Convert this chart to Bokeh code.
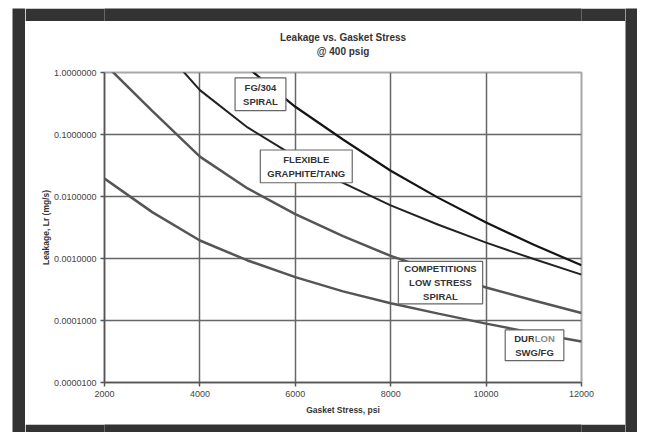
from bokeh.plotting import figure
from bokeh.models import Range1d, FixedTicker, PrintfTickFormatter, Label, Plot
from bokeh.layouts import column, row
from bokeh.embed import file_html
from bokeh.resources import INLINE

# ---- data ----
fg304_stress = [5000, 6000, 7000, 8000, 9000, 10000, 11000, 12000]
fg304_leak = [1.2, 0.28, 0.083, 0.026, 0.0095, 0.0038, 0.00166, 0.00078]

flex_stress = [3600, 4000, 5000, 6000, 7000, 8000, 9000, 10000, 11000, 12000]
flex_leak = [1.15, 0.52, 0.13, 0.044, 0.0166, 0.0072, 0.0035, 0.0018, 0.00098, 0.00055]

comp_stress = [2100, 3000, 4000, 5000, 6000, 7000, 8000, 9000, 10000, 11000, 12000]
comp_leak = [1.16, 0.24, 0.044, 0.0135, 0.0052, 0.0023, 0.0011, 0.0006, 0.00034, 0.00021, 0.000132]

durlon_stress = [2000, 3000, 4000, 5000, 6000, 7000, 8000, 9000, 10000, 11000, 12000]
durlon_leak = [0.0195, 0.0056, 0.00195, 0.00093, 0.0005, 0.000295, 0.00019, 0.000129, 0.000089, 0.000063, 0.000046]

x_ticks = [2000, 4000, 6000, 8000, 10000, 12000]
y_ticks = [1e-5, 1e-4, 1e-3, 1e-2, 1e-1, 1.0]

title_lines = ["Leakage vs. Gasket Stress", "@ 400 psig"]

FONT = "Liberation Sans"
FRAME = "#333333"

# ---- header strip: white band holding the two-line title ----
header = Plot(width=600, height=38, x_range=Range1d(2000, 12000), y_range=Range1d(0, 38),
              toolbar_location=None, min_border_top=0, min_border_left=0,
              min_border_right=0, min_border_bottom=0, outline_line_color=None,
              background_fill_color="white", border_fill_color="white",
              output_backend="svg")
for txt, yv in zip(title_lines, [21.7, 8.0]):
    header.add_layout(Label(x=7000, y=yv, text=txt, text_align="center", text_baseline="middle",
                            text_font=FONT, text_font_size="10px", text_font_style="bold",
                            text_color="#333333"))

# ---- main chart ----
p = figure(width=600, height=363, output_backend="svg", toolbar_location=None,
           y_axis_type="log",
           x_range=Range1d(2000, 12000), y_range=Range1d(1e-5, 1.0),
           min_border_left=79, min_border_right=44, min_border_top=13, min_border_bottom=40)
p.background_fill_color = "white"
p.border_fill_color = "white"
p.outline_line_color = "#a8a8a8"
p.outline_line_width = 2

# axes
p.xaxis.ticker = FixedTicker(ticks=x_ticks)
p.yaxis.ticker = FixedTicker(ticks=y_ticks, minor_ticks=[])
p.yaxis.formatter = PrintfTickFormatter(format="%.7f")
for ax in (p.xaxis[0], p.yaxis[0]):
    ax.axis_line_color = "#555555"
    ax.axis_line_width = 1.5
    ax.major_tick_line_color = "#555555"
    ax.major_tick_line_width = 1.5
    ax.major_tick_out = 4
    ax.major_tick_in = 0
    ax.minor_tick_line_color = None
    ax.major_label_text_font = FONT
    ax.major_label_text_font_size = "9px"
    ax.major_label_text_color = "#444444"
    ax.axis_label_text_font = FONT
    ax.axis_label_text_font_size = "8.5px"
    ax.axis_label_text_font_style = "bold"
    ax.axis_label_text_color = "#333333"
p.xaxis.axis_label = "Gasket Stress, psi"
p.yaxis.axis_label = "Leakage, Lr (mg/s)"
p.xaxis.major_label_standoff = 4
p.yaxis.major_label_standoff = 4
p.xaxis.axis_label_standoff = 5
p.yaxis.axis_label_standoff = 0

# grid
p.xgrid.ticker = FixedTicker(ticks=x_ticks[1:-1])
p.ygrid.ticker = FixedTicker(ticks=y_ticks[1:-1], minor_ticks=[])
for g in (p.xgrid[0], p.ygrid[0]):
    g.grid_line_color = "#666666"
    g.grid_line_width = 1.5

# curves
p.line(fg304_stress, fg304_leak, line_color="#151515", line_width=2.2)
p.line(flex_stress, flex_leak, line_color="#222222", line_width=2.0)
p.line(comp_stress, comp_leak, line_color="#555555", line_width=2.5)
p.line(durlon_stress, durlon_leak, line_color="#555555", line_width=2.5)

def box_label(x, y, text, pad_v, pad_h, color="#333333", border="#666666"):
    lab = Label(x=x, y=y, text=text, text_align="center", text_baseline="middle",
                text_font=FONT, text_font_size="9.5px", text_font_style="bold",
                text_color=color, text_line_height=1.25,
                background_fill_color="white",
                border_line_color=border, border_line_width=1.2,
                padding=dict(top=pad_v, bottom=pad_v, left=pad_h, right=pad_h))
    p.add_layout(lab)
    return lab

box_label(5270, 0.446, "FG/304\nSPIRAL", 4, 8)
box_label(6230, 0.0306, "FLEXIBLE\nGRAPHITE/TANG", 4, 7)
box_label(9044, 0.000409, "COMPETITIONS\nLOW STRESS\nSPIRAL", 2, 6)
box_label(11015, 0.0000398, "DURLON\nSWG/FG", 3, 9)
p.add_layout(Label(x=11015, y=0.0000398, text="LON", text_align="center", text_baseline="middle",
                   x_offset=10.3, y_offset=6.5,
                   text_font=FONT, text_font_size="9.5px", text_font_style="bold",
                   text_color="#8a8a8a", background_fill_color="white",
                   padding=dict(top=0, bottom=0, left=1, right=1)))

# dark picture frame around the chart sheet
def bar(w, h):
    return Plot(width=w, height=h, x_range=Range1d(0, 1), y_range=Range1d(0, 1),
                toolbar_location=None, min_border=0, outline_line_color=None,
                background_fill_color=FRAME, border_fill_color=FRAME,
                output_backend="svg")

layout = row(bar(13, 424),
             column(bar(600, 13), header, p, bar(600, 10)),
             bar(12, 424),
             margin=(8, 0, 0, 12))

open("out.html", "w").write(file_html(layout, INLINE))
